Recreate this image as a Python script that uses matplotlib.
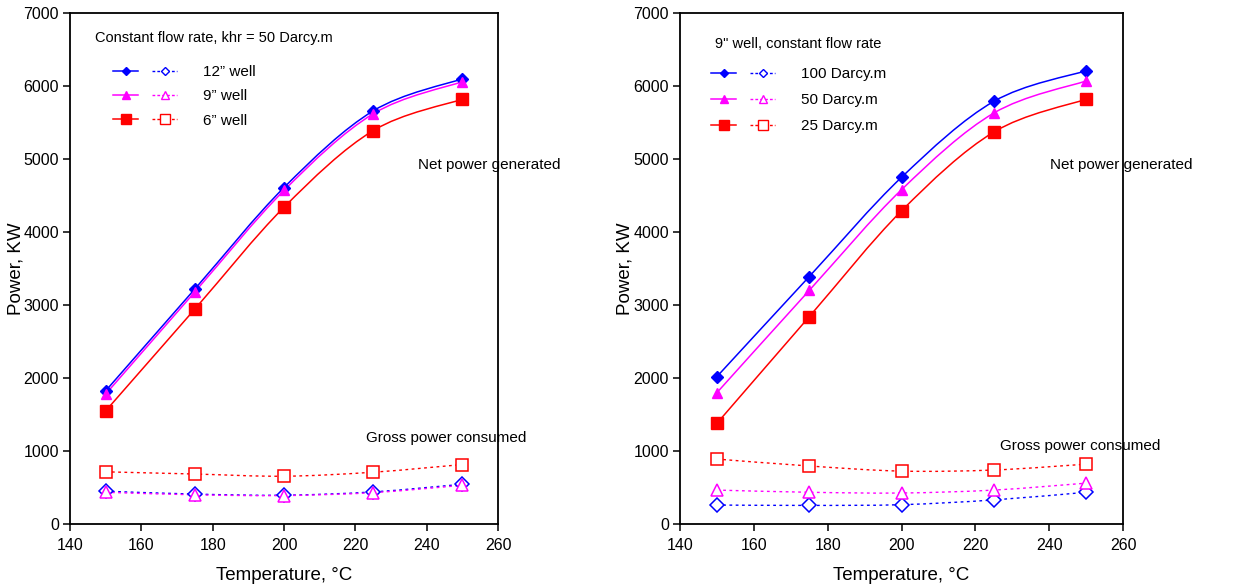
import matplotlib
matplotlib.use("Agg")
import matplotlib.pyplot as plt
from matplotlib.path import Path
from matplotlib.patches import PathPatch
from matplotlib.lines import Line2D
from matplotlib.legend_handler import HandlerTuple
import numpy as np

plt.rcParams['font.family'] = ['Liberation Sans', 'DejaVu Sans']

temps = [150, 175, 200, 225, 250]

# left panel: well diameter, khr = 50 Darcy.m
net_12 = [1825, 3220, 4610, 5660, 6100]
net_9 = [1780, 3180, 4570, 5620, 6060]
net_6 = [1550, 2945, 4340, 5390, 5820]
gross_12 = [450, 410, 395, 440, 545]
gross_9 = [435, 400, 390, 430, 530]
gross_6 = [715, 685, 655, 710, 815]
left_labels = ['12\u201d well', '9\u201d well', '6\u201d well']

# right panel: 9" well, permeability-thickness
net_100 = [2020, 3390, 4750, 5790, 6210]
net_50 = [1800, 3200, 4580, 5630, 6070]
net_25 = [1380, 2840, 4290, 5370, 5820]
gross_100 = [260, 255, 265, 330, 435]
gross_50 = [465, 435, 425, 465, 560]
gross_25 = [890, 795, 725, 740, 820]
right_labels = ['100 Darcy.m', '50 Darcy.m', '25 Darcy.m']

colors = ['#0000FF', '#FF00FF', '#FF0000']
markers = ['D', '^', 's']
msizes = [6, 7, 8]


def smooth_path(x, y):
    # Excel-like smoothed line: cubic Bezier through the data points
    pts = np.column_stack([x, y]).astype(float)
    verts = [pts[0]]
    codes = [Path.MOVETO]
    n = len(pts)
    for i in range(n - 1):
        p0 = pts[i - 1] if i > 0 else pts[i]
        p1 = pts[i]
        p2 = pts[i + 1]
        p3 = pts[i + 2] if i + 2 < n else pts[i + 1]
        c1 = p1 + (p2 - p0) / 6
        c2 = p2 - (p3 - p1) / 6
        verts += [c1, c2, p2]
        codes += [Path.CURVE4] * 3
    return Path(verts, codes)


def draw_series(ax, y, color, marker, ms, filled, ls):
    lw = 1.1 if filled else 1.0
    ax.add_patch(PathPatch(smooth_path(temps, y), facecolor='none',
                           edgecolor=color, lw=lw, linestyle=ls))
    if filled:
        ax.plot(temps, y, linestyle='none', marker=marker, ms=ms,
                color=color, mec=color)
    else:
        ax.plot(temps, y, linestyle='none', marker=marker, ms=ms + 1,
                mfc='white', mec=color, mew=1.1)


def make_panel(ax, nets, grosses, labels, title, title_xy, net_xy, gross_xy,
               leg_anchor, spacing, ylab_x):
    handles = []
    for net, gross, c, m, ms in zip(nets, grosses, colors, markers, msizes):
        draw_series(ax, net, c, m, ms, True, '-')
        draw_series(ax, gross, c, m, ms, False, (0, (2, 2.5)))
        h1 = Line2D([], [], color=c, lw=1.1, marker=m, ms=ms - 1.5)
        h2 = Line2D([], [], color=c, lw=1.0, ls=(0, (2, 1.5)), marker=m,
                    ms=ms - 1.5, mfc='white', mec=c)
        handles.append((h1, h2))

    ax.set_xlim(140, 260)
    ax.set_ylim(0, 7000)
    ax.set_xticks(range(140, 261, 20))
    ax.set_yticks(range(0, 7001, 1000))
    ax.tick_params(direction='out', length=5, width=1.1, labelsize=11.5,
                   pad=3, top=False, right=False)
    ax.tick_params(axis='x', pad=5)
    for sp in ax.spines.values():
        sp.set_linewidth(1.3)
    ax.set_xlabel('Temperature, \u00b0C', fontsize=13.5)
    ax.set_ylabel('Power, KW', fontsize=13.5)
    ax.xaxis.label.set_va('center')
    ax.yaxis.label.set_va('center')
    ax.xaxis.set_label_coords(0.5, -0.10)
    ax.yaxis.set_label_coords(ylab_x, 0.5)

    ax.text(title_xy[0], title_xy[1], title, fontsize=10.5, va='center',
            transform=ax.transAxes)
    ax.text(net_xy[0], net_xy[1], 'Net power generated', fontsize=11,
            va='center')
    ax.text(gross_xy[0], gross_xy[1], 'Gross power consumed', fontsize=11,
            va='center')

    ax.legend(handles, labels, fontsize=11, frameon=False, loc='upper left',
              bbox_to_anchor=leg_anchor, borderaxespad=0, borderpad=0,
              handler_map={tuple: HandlerTuple(ndivide=None, pad=0.9)},
              handlelength=4.2, handletextpad=1.7, labelspacing=spacing)


fig = plt.figure(figsize=(12.57, 5.88), dpi=100)
ax1 = fig.add_axes([0.0557, 0.1088, 0.3405, 0.869])
ax2 = fig.add_axes([0.541, 0.1088, 0.3524, 0.869])

make_panel(ax1, [net_12, net_9, net_6], [gross_12, gross_9, gross_6],
           left_labels, 'Constant flow rate, khr = 50 Darcy.m',
           (25 / 428, 1 - 25 / 511), (237.6, 4920), (223, 1180),
           (43 / 428, 1 - 52 / 511), 0.68, -0.127)
make_panel(ax2, [net_100, net_50, net_25], [gross_100, gross_50, gross_25],
           right_labels, '9" well, constant flow rate',
           (35 / 443, 1 - 31 / 511), (240.2, 4920), (226.7, 1070),
           (31 / 443, 1 - 54 / 511), 0.78, -0.125)

fig.savefig('out.png', dpi=100)
